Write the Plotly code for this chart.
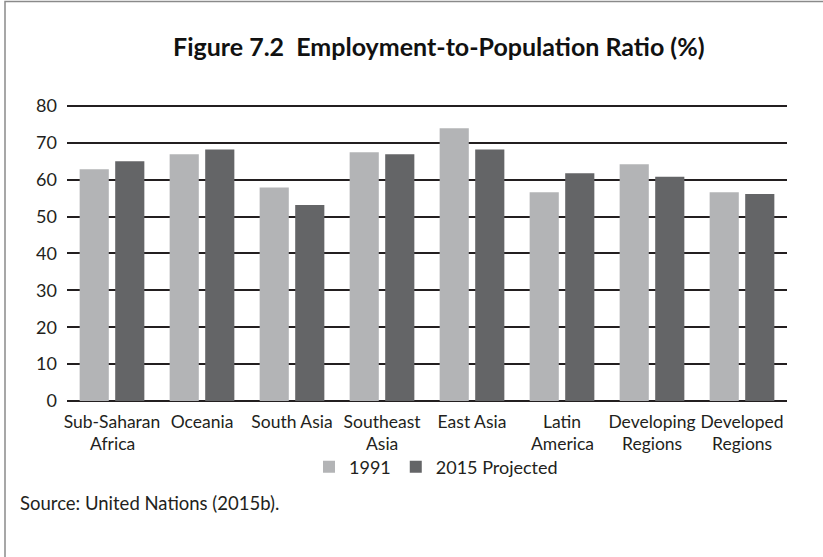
import plotly.graph_objects as go

categories = ["Sub-Saharan<br>Africa", "Oceania", "South Asia", "Southeast<br>Asia",
              "East Asia", "Latin<br>America", "Developing<br>Regions", "Developed<br>Regions"]
values_1991 = [62.8, 66.9, 57.9, 67.4, 73.9, 56.6, 64.2, 56.6]
values_2015 = [65.0, 68.2, 53.1, 66.9, 68.2, 61.7, 60.8, 56.1]
y_ticks = [0, 10, 20, 30, 40, 50, 60, 70, 80]

FONT = "Lato"
INK = "#231f20"

W, H = 823, 557
PL, PR, PT, PB = 67, 787, 104, 401   # plot area in page pixels

def px_x(px):
    return (px - PL) / (PR - PL)

def px_y(py):
    return (PB - py) / (PB - PT)

first_lines = [c.split("<br>")[0] for c in categories]
second_lines = [c.split("<br>")[1] if "<br>" in c else "" for c in categories]

fig = go.Figure()
fig.add_trace(go.Bar(name="1991", x=categories, y=values_1991, marker_color="#b3b4b6",
                     marker_line_width=0))
fig.add_trace(go.Bar(name="2015 Projected", x=categories, y=values_2015, marker_color="#646567",
                     marker_line_width=0))

fig.update_layout(
    width=W, height=H,
    margin=dict(l=PL, r=W - PR, t=PT, b=H - PB, autoexpand=False),
    paper_bgcolor="white", plot_bgcolor="white",
    barmode="group", bargap=0.21, bargroupgap=0.18,
    font=dict(family=FONT, size=17, color=INK),
    showlegend=True,
    legend=dict(orientation="h", x=px_x(436), xanchor="center", y=px_y(467), yanchor="middle",
                font=dict(family=FONT, size=18, color=INK), itemwidth=30,
                traceorder="normal", bgcolor="rgba(0,0,0,0)"),
    xaxis=dict(showgrid=False, showline=False, ticks="", tickfont=dict(size=17.5),
               tickangle=0, ticklabelstandoff=8,
               tickmode="array", tickvals=categories, ticktext=first_lines),
    yaxis=dict(range=[0, 80.5], tickvals=y_ticks, showgrid=True, gridcolor=INK, gridwidth=2,
               zeroline=True, zerolinecolor=INK, zerolinewidth=2, showline=False, ticks="",
               tickfont=dict(size=18), ticklabelstandoff=9),
)

for cat, line2 in zip(categories, second_lines):
    if line2:
        fig.add_annotation(text=line2, xref="x", yref="paper", x=cat, y=px_y(443),
                           xanchor="center", yanchor="middle", showarrow=False,
                           font=dict(family=FONT, size=17.5, color=INK))

fig.add_annotation(text="<b>Figure 7.2  Employment-to-Population Ratio (%)</b>",
                   xref="paper", yref="paper", x=px_x(439), y=px_y(46),
                   xanchor="center", yanchor="middle", showarrow=False,
                   font=dict(family=FONT, size=25, color="#111111"))
fig.add_annotation(text="Source: United Nations (2015b).",
                   xref="paper", yref="paper", x=px_x(18), y=px_y(503),
                   xanchor="left", yanchor="middle", showarrow=False,
                   font=dict(family=FONT, size=18.5, color=INK))

fig.add_shape(type="rect", xref="paper", yref="paper",
              x0=px_x(5), x1=px_x(840), y0=px_y(1.5), y1=px_y(580),
              line=dict(color="#8a8a8a", width=1.5), fillcolor="rgba(0,0,0,0)", layer="above")

fig.write_html("out.html", config={"displayModeBar": False},
               post_script="document.body.style.margin='0';document.body.style.padding='0';")
